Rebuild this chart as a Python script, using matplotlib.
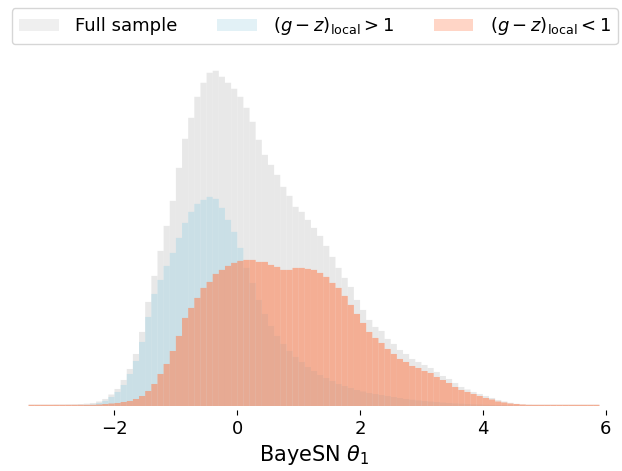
import numpy as np
import matplotlib
matplotlib.use('Agg')
import matplotlib.pyplot as plt
from matplotlib.patches import Patch

# theta_1 histograms, bins of width 0.1 starting at -3.4 (counts, arbitrary units)
bin_start = -3.4
bin_width = 0.1

full_counts = [1.4, 1.4, 1.4, 1.4, 1.5, 1.5, 1.6, 1.7, 2.0, 2.4,
               3.0, 4.5, 7, 11.5, 17, 26, 37, 52, 74, 104,
               130, 155, 180, 205, 238, 267, 288, 309, 323, 333,
               335, 329, 323, 317, 309, 298, 284, 266, 251, 241,
               231, 219, 210, 199, 194, 186, 178, 170, 160, 149,
               138, 128, 119, 106, 96, 86, 79, 75, 67, 62,
               56, 52, 47, 44, 41, 38, 34, 30, 27, 23,
               19, 16.5, 14, 12, 10, 8, 6, 4.5, 3.2, 2.2,
               1.6, 1.4, 1.3, 1.3, 1.3, 1.3, 1.3, 1.3, 1.3, 1.3,
               1.3, 1.3, 1.3]

red_counts = [0.1, 0.1, 0.1, 0.1, 0.1, 0.2, 0.2, 0.3, 0.5, 1.0,
              1.5, 3, 5, 9, 14, 21, 32, 45, 64, 89,
              112, 126, 140, 153, 168, 183, 194, 202, 206, 209,
              207, 198, 186, 174, 158, 138, 123, 106, 92, 80,
              70, 62, 55, 49, 44, 39, 35, 31, 28, 25,
              22, 20, 18, 16, 14.5, 13, 12, 11, 10, 9,
              8, 7, 6.3, 5.6, 5, 4.4, 3.9, 3.4, 3, 2.6,
              2.3, 2, 1.7, 1.5, 1.3, 1.1, 0.9, 0.8, 0.6, 0.5,
              0.4, 0.3, 0.3, 0.2, 0.2, 0.2, 0.1, 0.1, 0.1, 0.1,
              0.1, 0.1, 0.1]

blue_counts = [1.2, 1.2, 1.2, 1.2, 1.2, 1.2, 1.2, 1.2, 1.2, 1.2,
               1.2, 1.5, 2, 2.5, 3, 4, 5, 7, 10, 15,
               22, 32, 42, 55, 70, 88, 98, 108, 118, 124,
               132, 136, 140, 143, 145, 146, 146, 144, 144, 141,
               139, 136, 136, 138, 138, 137, 136, 133, 129, 123,
               118, 110, 101, 92, 83, 74, 68, 63, 57, 52,
               47, 44, 40, 38, 35, 33, 29, 26, 23, 19,
               16, 14, 12, 10, 8, 6.5, 4.5, 3.5, 2.5, 2,
               1.5, 1.2, 1.2, 1.2, 1.2, 1.2, 1.2, 1.2, 1.2, 1.2,
               1.2, 1.2, 1.2]

labels = ['Full sample', r'$(g-z)_\mathrm{local}>1$', r'$(g-z)_\mathrm{local}<1$']
colors = ['lightgrey', 'lightblue', 'coral']

n_bins = len(full_counts)
edges = np.round(bin_start + bin_width * np.arange(n_bins + 1), 3)
centers = 0.5 * (edges[:-1] + edges[1:])

fig = plt.figure(figsize=(6.22, 4.71), dpi=100)
ax = fig.add_axes([0.0, 65 / 471, 628 / 622, 352 / 471])

hist_specs = [(full_counts, colors[0], 0.5),
              (red_counts, colors[1], 0.5),
              (blue_counts, colors[2], 0.55)]
for counts, col, a in hist_specs:
    _, _, patches = ax.hist(centers, bins=edges, weights=counts, color=col,
                            alpha=a, linewidth=0)
    # unsnapped bars leave faint seams between neighbouring bins
    for p in patches:
        p.set_snap(False)

ax.set_xticks([-2, 0, 2, 4, 6])
ax.tick_params(axis='x', labelsize=13)
ax.set_yticks([])
for side in ['left', 'right', 'top']:
    ax.spines[side].set_visible(False)
ax.spines['bottom'].set_position(('outward', 3))
ax.spines['bottom'].set_visible(False)
ax.set_xlabel(r'BayeSN $\theta_1$', fontsize=15)

handles = [Patch(facecolor=c, alpha=a, linewidth=0) for c, a in zip(colors, [0.35, 0.35, 0.32])]
fig.legend(handles, labels, loc='upper center', bbox_to_anchor=(0.506, 0.983),
           ncol=3, fontsize=13, borderaxespad=0, handlelength=2.2,
           columnspacing=2.2, handletextpad=0.9)

fig.savefig('out.png', dpi=100)
